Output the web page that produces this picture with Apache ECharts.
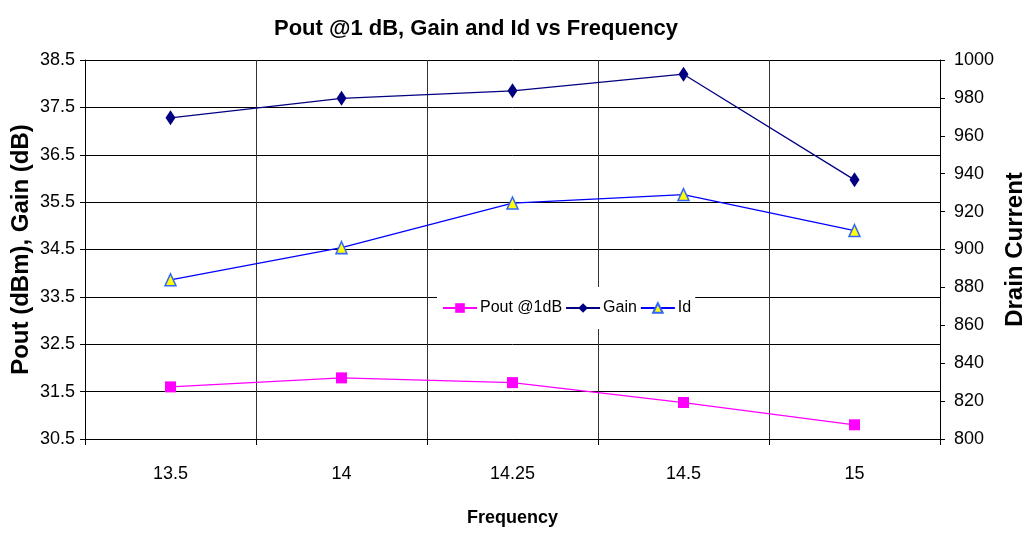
<!DOCTYPE html>
<html>
<head>
<meta charset="utf-8">
<script src="https://cdn.jsdelivr.net/npm/echarts@6/dist/echarts.min.js"></script>
<style>html,body{margin:0;padding:0;background:#fff}#c{width:1024px;height:533px}</style>
</head>
<body>
<div id="c"></div>
<script>
const categories = ['13.5', '14', '14.25', '14.5', '15'];
const poutValues = [31.6, 31.79, 31.69, 31.27, 30.8];
const gainValues = [37.28, 37.69, 37.85, 38.2, 35.97];
const idValues = [884, 901, 924.5, 929, 910];
const seriesNames = ['Pout @1dB', 'Gain', 'Id'];

const SANS = "'Liberation Sans', Arial, sans-serif";

const chart = echarts.init(document.getElementById('c'), null, {renderer: 'canvas'});
chart.setOption({
  animation: false,
  backgroundColor: '#fff',
  title: {
    text: 'Pout @1 dB, Gain and Id vs Frequency',
    left: 471, top: 13, textAlign: 'center',
    textStyle: {fontFamily: SANS, fontWeight: 'bold', fontSize: 22, color: '#000'}
  },
  grid: {left: 85, right: 84, top: 60, bottom: 94, containLabel: false, outerBoundsMode: 'none'},
  legend: {
    left: 437, top: 287,
    backgroundColor: '#fff',
    padding: [13, 4, 13, 5],
    itemWidth: 34, itemHeight: 12, itemGap: 3,
    data: seriesNames,
    textStyle: {fontFamily: SANS, fontSize: 16, color: '#000', padding: [0, 0, 0, -2]}
  },
  xAxis: {
    type: 'category',
    data: categories,
    boundaryGap: true,
    name: 'Frequency',
    nameLocation: 'middle',
    nameGap: 70,
    nameMoveOverlap: false,
    nameTextStyle: {fontFamily: SANS, fontWeight: 'bold', fontSize: 18, color: '#000'},
    axisLine: {lineStyle: {color: '#000', width: 1}},
    axisTick: {show: true, length: 6, lineStyle: {color: '#000'}},
    axisLabel: {fontFamily: SANS, fontSize: 18, color: '#000', margin: 26},
    splitLine: {show: true, lineStyle: {color: '#333', width: 1}}
  },
  yAxis: [
    {
      type: 'value', min: 30.5, max: 38.5, interval: 1,
      name: 'Pout (dBm), Gain (dB)',
      nameLocation: 'middle', nameGap: 52, nameRotate: 90,
      nameMoveOverlap: false,
      nameTextStyle: {fontFamily: SANS, fontWeight: 'bold', fontSize: 24, color: '#000'},
      axisLine: {show: true, lineStyle: {color: '#000'}},
      axisTick: {show: true, length: 5, lineStyle: {color: '#000'}},
      axisLabel: {fontFamily: SANS, fontSize: 18, color: '#000', margin: 10,
        formatter: v => v.toFixed(1)},
      splitLine: {show: true, lineStyle: {color: '#000', width: 1}}
    },
    {
      type: 'value', min: 800, max: 1000, interval: 20,
      name: 'Drain Current',
      nameLocation: 'middle', nameGap: 63, nameRotate: 90,
      nameMoveOverlap: false,
      nameTextStyle: {fontFamily: SANS, fontWeight: 'bold', fontSize: 24, color: '#000'},
      axisLine: {show: true, lineStyle: {color: '#000'}},
      axisTick: {show: true, length: 5, lineStyle: {color: '#000'}},
      axisLabel: {fontFamily: SANS, fontSize: 18, color: '#000', margin: 14,
        formatter: v => String(v)},
      splitLine: {show: false}
    }
  ],
  series: [
    {
      name: seriesNames[0], type: 'line', yAxisIndex: 0, data: poutValues,
      symbol: 'rect', symbolSize: [11, 11],
      lineStyle: {color: '#FF00FF', width: 1.3},
      itemStyle: {color: '#FF00FF', borderWidth: 0}
    },
    {
      name: seriesNames[1], type: 'line', yAxisIndex: 0, data: gainValues,
      symbol: 'diamond', symbolSize: [10, 15],
      lineStyle: {color: '#000080', width: 1.3},
      itemStyle: {color: '#000080', borderWidth: 0}
    },
    {
      name: seriesNames[2], type: 'line', yAxisIndex: 1, data: idValues,
      symbol: 'triangle', symbolSize: [11, 12],
      lineStyle: {color: '#0000FF', width: 1.3},
      itemStyle: {color: '#FFFF00', borderColor: '#3366FF', borderWidth: 1.5}
    }
  ]
});
</script>
</body>
</html>
